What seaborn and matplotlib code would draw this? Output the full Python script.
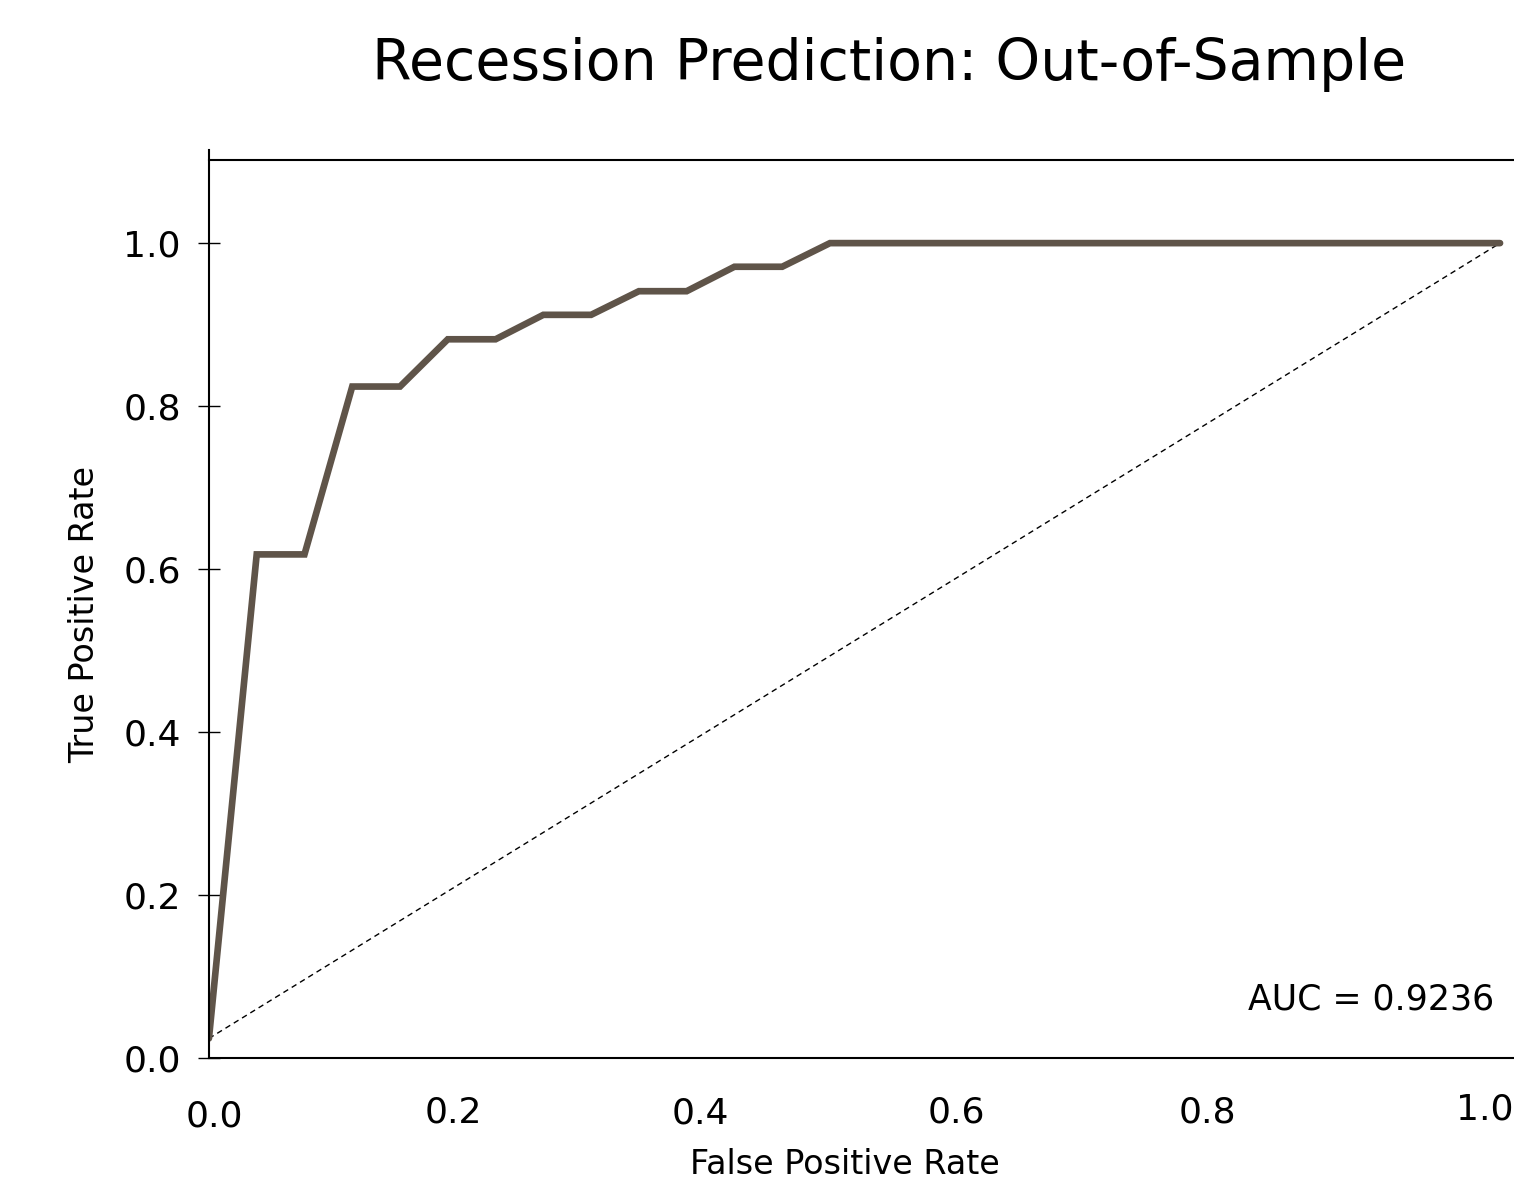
import numpy as np
import pandas as pd
import seaborn as sns
sns.set_style("white")
import matplotlib.pyplot as plt
from matplotlib.transforms import ScaledTranslation

plt.rcParams["font.family"] = ["DejaVu Sans"]
plt.rcParams["text.color"] = "black"
plt.rcParams["xtick.color"] = "black"
plt.rcParams["ytick.color"] = "black"

# ROC curve
fpr = [0.0, 0.037, 0.074, 0.111, 0.148, 0.185, 0.222, 0.259, 0.296,
       0.333, 0.370, 0.407, 0.444, 0.481, 1.0]
tpr = [0.024, 0.618, 0.618, 0.824, 0.824, 0.882, 0.882, 0.912, 0.912,
       0.941, 0.941, 0.971, 0.971, 1.0, 1.0]

# chance diagonal
chance_x = [0.0, 1.0]
chance_y = [0.024, 1.0]

xticks = [0.0, 0.2, 0.4, 0.6, 0.8, 1.0]
yticks = [0.0, 0.2, 0.4, 0.6, 0.8, 1.0]
auc_text = "AUC = 0.9236"


def plot_roc():
    fig = plt.figure(figsize=(15.14, 11.8), dpi=100)
    ax = fig.add_axes([0.138, 0.1034, 0.862, 0.761])

    roc = pd.DataFrame({"fpr": fpr, "tpr": tpr})
    chance = pd.DataFrame({"fpr": chance_x, "tpr": chance_y})

    sns.lineplot(data=chance, x="fpr", y="tpr", sort=False, ax=ax,
                 color="black", lw=1.0, linestyle=(0, (4, 3)))
    sns.lineplot(data=roc, x="fpr", y="tpr", sort=False, ax=ax,
                 color="#5f5449", lw=4.8, solid_capstyle="round",
                 solid_joinstyle="miter")

    ax.set_xlim(0, 1.0108)
    ax.set_ylim(0, 1.102)

    ax.spines["right"].set_visible(False)
    for side in ["left", "top", "bottom"]:
        ax.spines[side].set_color("black")
        ax.spines[side].set_linewidth(1.5)
    ax.spines["left"].set_bounds(0, 1.114)

    ax.set_yticks(yticks)
    ax.set_yticklabels([f"{v:.1f}" for v in yticks])
    ax.tick_params(axis="y", direction="inout", length=16.5, width=1.0,
                   pad=12, labelsize=26, left=True)
    ax.set_xticks(xticks)
    ax.set_xticklabels([f"{v:.1f}" for v in xticks])
    ax.tick_params(axis="x", length=0, pad=27, labelsize=26)

    # tick labels sit a little off their ticks in the original
    shifts = [(5, -4), (-14, 0), (-25, -1), (-27, 0), (-34, 0), (-15, 3)]
    for lab, (dx, dy) in zip(ax.get_xticklabels(), shifts):
        lab.set_transform(lab.get_transform() +
                          ScaledTranslation(dx / 100, dy / 100, fig.dpi_scale_trans))

    ax.set_xlabel("")
    ax.set_ylabel("")
    fig.text(0.558, 0.013, "False Positive Rate", ha="center", va="center",
             fontsize=24)
    fig.text(0.056, 0.479, "True Positive Rate", ha="center", va="center",
             rotation=90, fontsize=24)
    fig.text(0.587, 0.945, "Recession Prediction: Out-of-Sample",
             ha="center", va="center", fontsize=41)

    ax.text(0.9847, 0.0646, auc_text, transform=ax.transAxes,
            ha="right", va="center", fontsize=25)

    fig.savefig("out.png", dpi=100)


def main():
    plot_roc()


if __name__ == "__main__":
    main()
